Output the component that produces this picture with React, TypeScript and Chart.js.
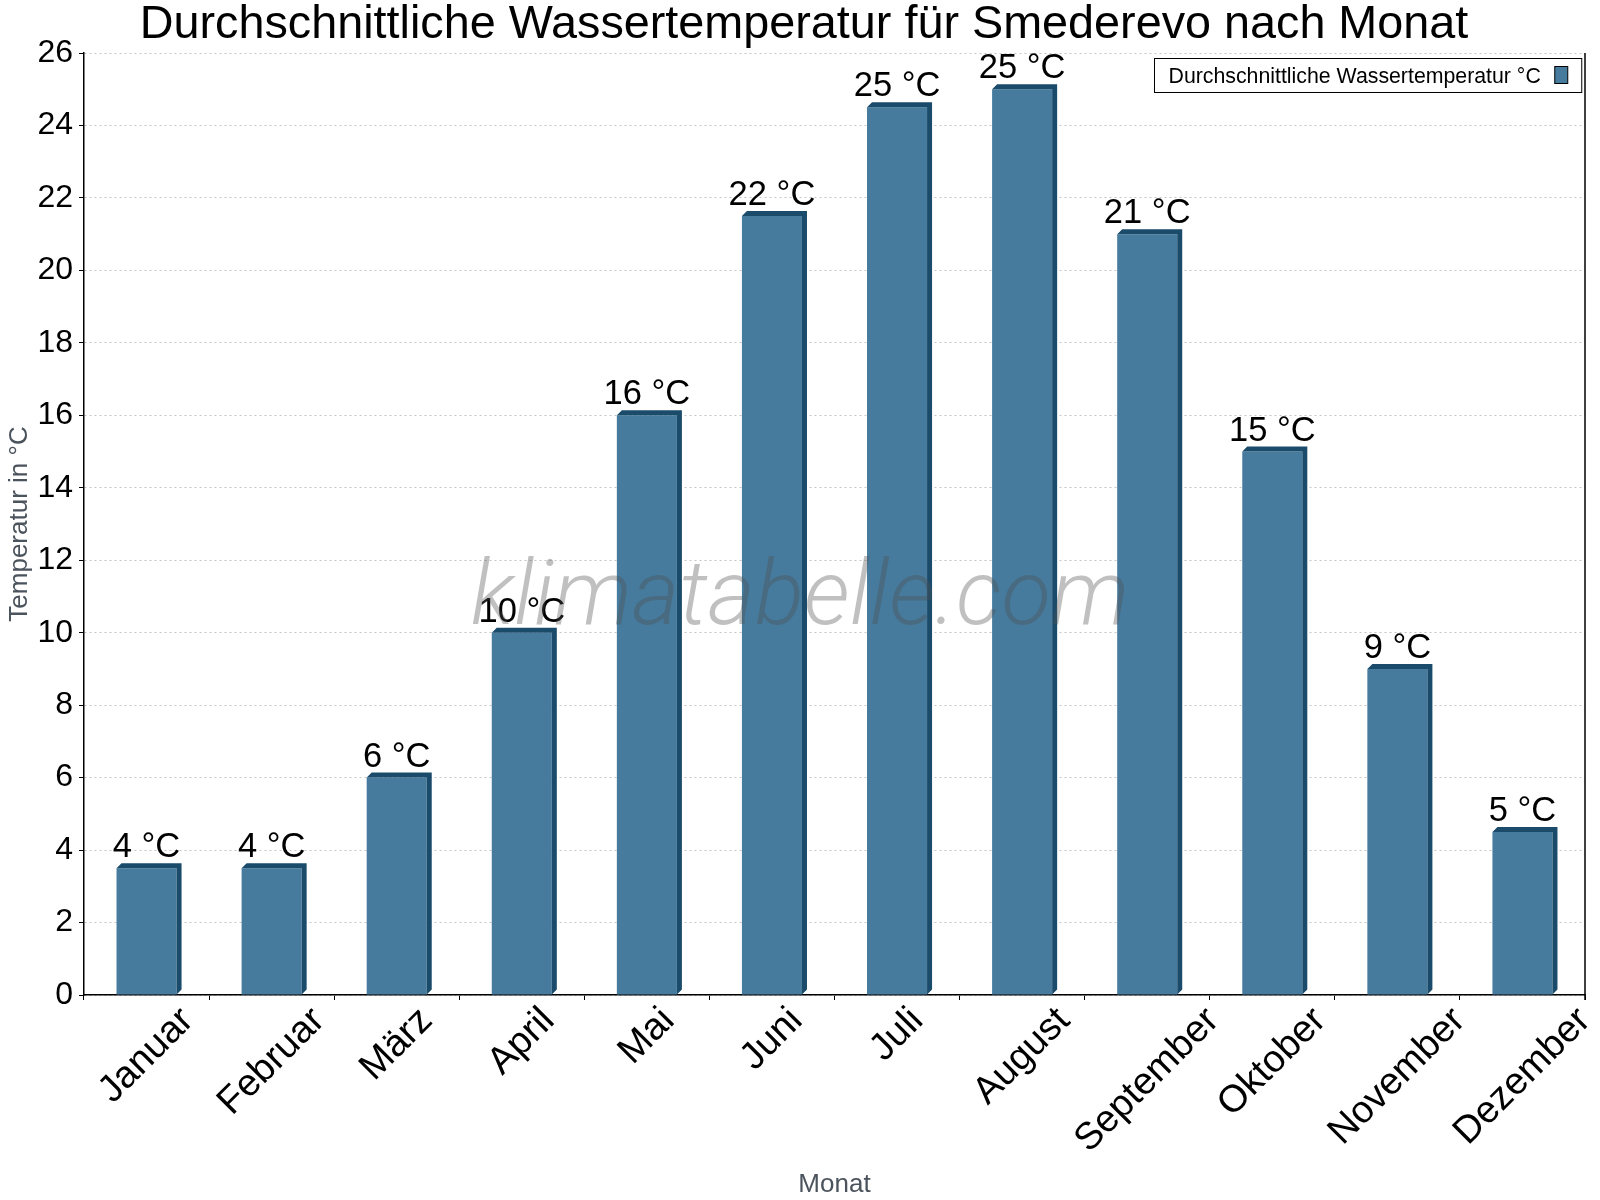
import { useEffect, useRef } from 'react';
import { Chart, registerables, Plugin } from 'chart.js';

Chart.register(...registerables);

const FAMILY = '"Liberation Sans", Arial, sans-serif';
const FRONT = '#467b9d';
const DARK = '#1b4b6b';

const chartTitle = 'Durchschnittliche Wassertemperatur für Smederevo nach Monat';
const seriesLabel = 'Durchschnittliche Wassertemperatur °C';
const yTitle = 'Temperatur in °C';
const xTitle = 'Monat';
const watermark = 'klimatabelle.com';

const months = [
  'Januar', 'Februar', 'März', 'April', 'Mai', 'Juni',
  'Juli', 'August', 'September', 'Oktober', 'November', 'Dezember',
];
const waterTemp = [3.5, 3.5, 6, 10, 16, 21.5, 24.5, 25, 21, 15, 9, 4.5];
const yMin = 0;
const yMax = 26;
const yStep = 2;

// 3D look: dark top bevel and right side on each bar, plus value labels
const bar3d: Plugin<'bar'> = {
  id: 'bar3d',
  afterDatasetsDraw(chart) {
    const ctx = chart.ctx;
    const meta = chart.getDatasetMeta(0);
    const d = 5;
    ctx.save();
    meta.data.forEach((el: any, i: number) => {
      const { x, y, base, width } = el.getProps(['x', 'y', 'base', 'width'], true);
      const l = x - width / 2;
      const r = x + width / 2;
      ctx.fillStyle = DARK;
      ctx.beginPath();
      ctx.moveTo(l, y);
      ctx.lineTo(l + d, y - d);
      ctx.lineTo(r + d, y - d);
      ctx.lineTo(r + d, base - d);
      ctx.lineTo(r, base);
      ctx.lineTo(r, y);
      ctx.closePath();
      ctx.fill();

      ctx.fillStyle = '#000';
      ctx.font = `34.5px ${FAMILY}`;
      ctx.textAlign = 'center';
      ctx.textBaseline = 'alphabetic';
      ctx.fillText(`${Math.round(waterTemp[i])} °C`, x, y - 11);
    });
    ctx.restore();
  },
};

const extras: Plugin<'bar'> = {
  id: 'extras',
  afterDraw(chart) {
    const ctx = chart.ctx;
    const area = chart.chartArea;
    const xs = chart.scales.x;
    ctx.save();

    // title (centred on the canvas, not on the padded layout box)
    ctx.font = `46.75px ${FAMILY}`;
    ctx.fillStyle = '#000';
    ctx.textAlign = 'center';
    ctx.textBaseline = 'alphabetic';
    ctx.fillText(chartTitle, chart.width / 2 + 4, 38);

    // right frame line
    ctx.strokeStyle = '#000';
    ctx.lineWidth = 1.5;
    ctx.beginPath();
    ctx.moveTo(area.right, area.top);
    ctx.lineTo(area.right, area.bottom + 5);
    ctx.stroke();

    // rotated month labels, centred under each bar
    const fs = 38;
    ctx.font = `${fs}px ${FAMILY}`;
    ctx.fillStyle = '#000';
    ctx.textAlign = 'center';
    ctx.textBaseline = 'middle';
    months.forEach((m, i) => {
      const cx = xs.getPixelForValue(i);
      const w = ctx.measureText(m).width;
      const half = ((w + fs * 0.8) * Math.SQRT1_2) / 2;
      ctx.save();
      ctx.translate(cx, xs.top + 9 + half);
      ctx.rotate(-Math.PI / 4);
      ctx.fillText(m, 0, 0);
      ctx.restore();
    });

    // legend box inside the plot, top right
    ctx.font = `21.3px ${FAMILY}`;
    const tw = ctx.measureText(seriesLabel).width;
    const bw = tw + 55;
    const bx = Math.round(area.right - 4 - bw) + 0.5;
    const by = Math.round(area.top + 5) + 0.5;
    ctx.fillStyle = '#fff';
    ctx.fillRect(bx, by, bw, 34);
    ctx.strokeStyle = '#000';
    ctx.lineWidth = 1;
    ctx.strokeRect(bx, by, bw, 34);
    ctx.fillStyle = '#000';
    ctx.textAlign = 'left';
    ctx.textBaseline = 'alphabetic';
    ctx.fillText(seriesLabel, bx + 14, by + 24);
    ctx.fillStyle = FRONT;
    ctx.fillRect(bx + bw - 27, by + 8, 13, 17);
    ctx.strokeRect(bx + bw - 27, by + 8, 13, 17);

    // watermark
    ctx.font = `italic 300 91px Roboto, ${FAMILY}`;
    ctx.fillStyle = 'rgba(80,80,80,0.36)';
    ctx.textAlign = 'center';
    ctx.fillText(watermark, chart.width / 2, 624);

    ctx.restore();
  },
};

export default function App() {
  const canvasRef = useRef<HTMLCanvasElement>(null);

  useEffect(() => {
    if (!canvasRef.current) return;
    const chart = new Chart(canvasRef.current, {
      type: 'bar',
      data: {
        labels: months,
        datasets: [
          {
            label: seriesLabel,
            data: waterTemp,
            backgroundColor: FRONT,
            borderWidth: 0,
            barPercentage: 0.48,
            categoryPercentage: 1,
          },
        ],
      },
      options: {
        animation: false,
        responsive: true,
        maintainAspectRatio: false,
        layout: { padding: { left: 0, right: 15, top: 53, bottom: 0 } },
        plugins: {
          legend: { display: false },
          tooltip: { enabled: false },
          title: { display: false },
        },
        scales: {
          x: {
            grid: {
              display: true,
              drawOnChartArea: false,
              drawTicks: true,
              tickLength: 5,
              tickColor: '#000',
              offset: true,
            },
            border: { display: true, color: '#000', width: 1.5 },
            ticks: { display: false },
            title: {
              display: true,
              text: xTitle,
              color: '#4b535c',
              font: { size: 26, family: FAMILY },
              padding: { top: 0, bottom: 0 },
            },
            afterFit(scale: any) {
              scale.height = 205;
            },
          },
          y: {
            min: yMin,
            max: yMax,
            ticks: {
              stepSize: yStep,
              color: '#000',
              font: { size: 32, family: FAMILY },
              padding: 6,
            },
            grid: { color: '#c4c4c4', tickColor: '#000', tickLength: 5, lineWidth: 1 },
            border: { display: true, color: '#000', width: 1.5, dash: [2, 3] },
            title: {
              display: true,
              text: yTitle,
              color: '#4b535c',
              font: { size: 26, family: FAMILY },
              padding: { top: 4, bottom: 0 },
            },
            afterFit(scale: any) {
              scale.width = 84;
            },
          },
        },
      },
      plugins: [bar3d, extras],
    });
    return () => chart.destroy();
  }, []);

  return (
    <div style={{ position: 'fixed', left: 0, top: 0, width: 1600, height: 1200, background: '#fff' }}>
      <canvas ref={canvasRef} />
    </div>
  );
}
